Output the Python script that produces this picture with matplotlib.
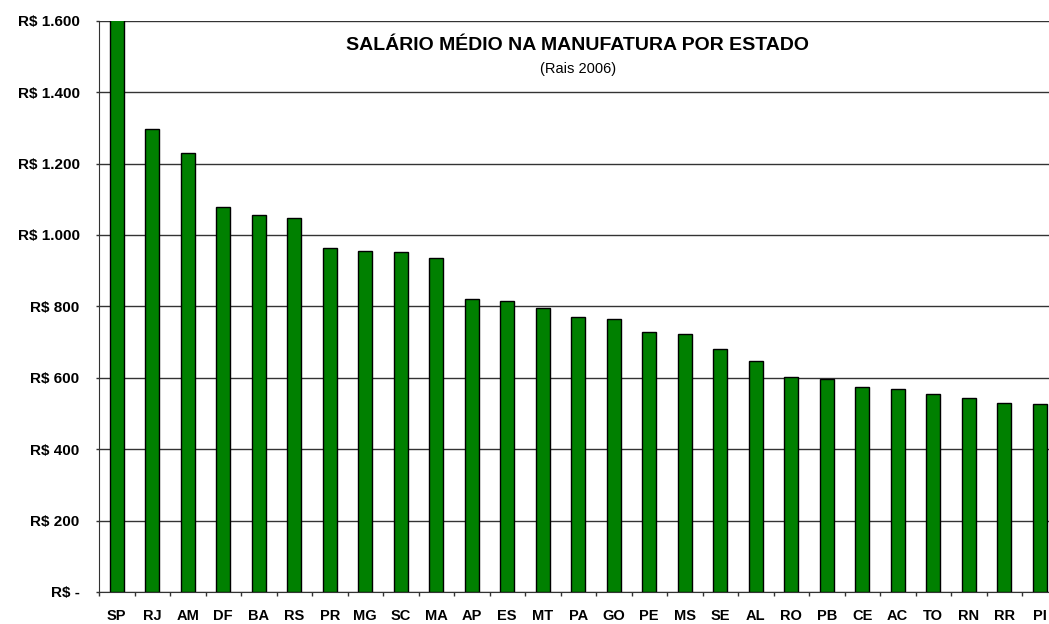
import matplotlib.pyplot as plt
import numpy as np
from matplotlib.ticker import FuncFormatter

# data (Rais 2006)
estados = ['SP', 'RJ', 'AM', 'DF', 'BA', 'RS', 'PR', 'MG', 'SC', 'MA', 'AP', 'ES', 'MT', 'PA',
           'GO', 'PE', 'MS', 'SE', 'AL', 'RO', 'PB', 'CE', 'AC', 'TO', 'RN', 'RR', 'PI']
salarios = [1650, 1297, 1229, 1079, 1056, 1047, 963, 954, 952, 935, 821, 815, 795, 770,
            765, 727, 722, 681, 646, 603, 597, 575, 568, 556, 544, 530, 526]
y_ticks = [0, 200, 400, 600, 800, 1000, 1200, 1400, 1600]

plt.rcParams['font.family'] = ['Liberation Sans', 'DejaVu Sans']

W, H = 1049, 624
fig = plt.figure(figsize=(W / 100, H / 100), dpi=100)
# axis runs past the right edge, as in the cropped original
ax = fig.add_axes([99 / W, (H - 592) / H, 958.5 / W, (592 - 20.8) / H])

x = np.arange(len(estados))
ax.bar(x, salarios, width=0.4, color='#008000', edgecolor='black', linewidth=1.0, zorder=3)

ax.set_xlim(-0.5, len(estados) - 0.5)
ax.set_ylim(0, 1600)

def fmt_real(v, pos):
    if v == 0:
        return 'R$ -'
    return 'R$ ' + f'{int(v):,}'.replace(',', '.')

ax.set_yticks(y_ticks)
ax.yaxis.set_major_formatter(FuncFormatter(fmt_real))
ax.tick_params(axis='y', length=2.5, width=1, color='#333333', pad=11.5, labelsize=11)
for lab in ax.get_yticklabels():
    lab.set_fontweight('bold')

ax.set_xticks(x)
ax.set_xticklabels(estados, fontweight='bold', fontsize=10.5)
ax.set_xticks(np.arange(len(estados) + 1) - 0.5, minor=True)
ax.tick_params(axis='x', which='major', length=0, pad=12)
ax.tick_params(axis='x', which='minor', length=3, width=1, color='#333333')

ax.grid(axis='y', color='#333333', linewidth=1, zorder=0)
for side in ['top', 'right']:
    ax.spines[side].set_visible(False)
ax.spines['left'].set_color('#333333')
ax.spines['bottom'].set_color('#333333')

fig.text(578 / W, 1 - 46 / H, 'SALÁRIO MÉDIO NA MANUFATURA POR ESTADO',
         ha='center', va='center', fontsize=14, fontweight='bold')
fig.text(578 / W, 1 - 69 / H, '(Rais 2006)', ha='center', va='center', fontsize=10.5)

fig.savefig('out.png', dpi=100)
